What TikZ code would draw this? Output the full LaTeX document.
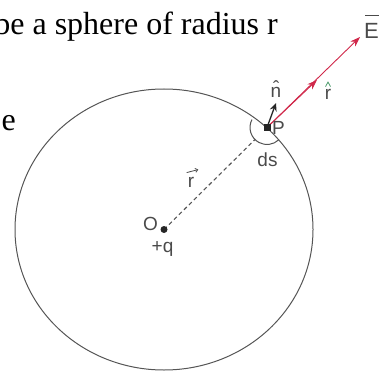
\documentclass[tikz,border=0pt]{standalone}
\usepackage{fontspec}
\setmainfont{Liberation Serif}
\newfontfamily\labelfont{Liberation Sans}
\usetikzlibrary{arrows.meta,calc}
\definecolor{lbl}{HTML}{4A4A4A}
\definecolor{linegray}{HTML}{555555}
\definecolor{efield}{HTML}{D0284A}
\definecolor{hatg}{HTML}{4A9A6A}
\begin{document}
\begin{tikzpicture}[x=1pt,y=-1pt,
  lab/.style={font=\labelfont\fontsize{19}{19}\selectfont, text=lbl, inner sep=0pt},
  biglab/.style={font=\labelfont\fontsize{22}{22}\selectfont, text=lbl, inner sep=0pt},
  body/.style={font=\fontsize{32}{32}\selectfont, inner sep=0pt},
  sphere/.style={draw=linegray, line width=1pt},
  radline/.style={draw=linegray, line width=1.1pt, dash pattern=on 4pt off 3pt},
  fieldarrow/.style={draw=efield, line width=0.9pt, -{Stealth[length=10pt,width=7pt]}},
  normalarrow/.style={draw=black!85, line width=1.3pt, -{Stealth[length=8pt,width=7pt]}},
  vecarrow/.style={draw=lbl, line width=0.8pt, -{Straight Barb[length=2.5pt,width=4pt]}},
  dot/.style={fill=black!85, inner sep=0pt, minimum size=7pt}]
\useasboundingbox (0,0) rectangle (379,371);
\clip (0,0) rectangle (379,371);

\coordinate (O) at (164,229.5);
\coordinate (P) at (267,127.5);
\coordinate (Etip) at (360,37);
\coordinate (Emid) at (317,80);
\coordinate (ntip) at (276,103);
\coordinate (dsend) at ($(P)+(135:17)$);

% sphere
\draw[sphere] (O) ellipse [x radius=149, y radius=140.5];
% radius line
\draw[radline] (O) -- (dsend);
% small surface element
\draw[sphere] ($(P)+(208:17)$) arc[start angle=208, end angle=47, radius=17];

% field arrow
\draw[fieldarrow] (P) -- (Etip);
\draw[fieldarrow] (P) -- (Emid);
% normal
\draw[normalarrow] (P) -- (ntip);

% dots
\node[dot, rectangle] (Pdot) at (P) {};
\node[dot, circle] (Odot) at (O) {};

% labels
\node[lab, anchor=base west] (Plab) at (272,135) {P};
\node[lab, anchor=base] (ds) at (267.5,167) {ds};
\node[lab, anchor=base east] (Olab) at (158,230) {O};
\node[lab, anchor=base] (q) at (162.5,252) {+q};
\node[lab, anchor=base] (nh) at (276,98) {\^{n}};
\node[lab, anchor=base] (rh) at (328,100) {r};
\draw[hatg, line width=0.8pt] ($(rh.north)+(-2.5,-3)$) -- ($(rh.north)+(0,-7.5)$) -- ($(rh.north)+(2.5,-3)$);
\node[lab, anchor=base] (rv) at (191,187) {r};
\draw[vecarrow] ($(rv.north west)+(-1,-4)$) -- ($(rv.north east)+(4,-7)$);
\node[biglab, anchor=base west] (E) at (364,38.5) {E};
\draw[vecarrow] ($(E.north west)+(1,-8)$) -- ($(E.north east)+(4,-8)$);

% text fragments
\node[body, anchor=base east] (t1) at (278,35) {be a sphere of radius r};
\node[body, anchor=base east] (t2) at (16,131) {e};
\end{tikzpicture}
\end{document}
